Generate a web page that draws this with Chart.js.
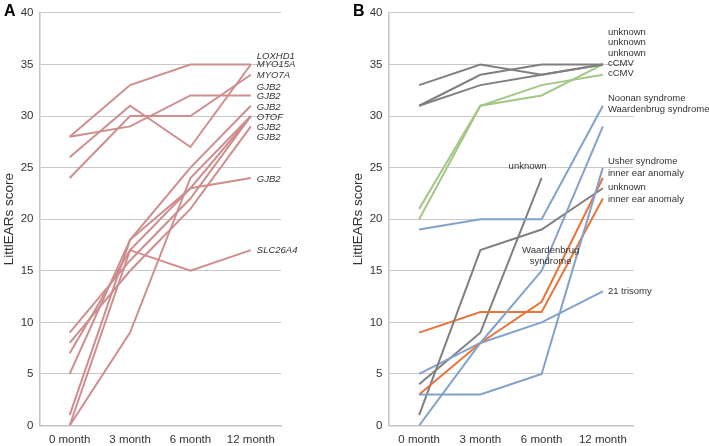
<!DOCTYPE html>
<html>
<head>
<meta charset="utf-8">
<script src="https://cdn.jsdelivr.net/npm/chart.js@4.4.0/dist/chart.umd.min.js"></script>
<style>
  body { margin: 0; background: #fff; }
  #wrap { position: relative; width: 709px; height: 446px; }
  canvas { position: absolute; top: 0; }
</style>
</head>
<body>
<div id="wrap">
  <canvas id="chartA" width="349" height="446" style="left:0"></canvas>
  <canvas id="chartB" width="360" height="446" style="left:349px"></canvas>
</div>
<script>
const months = ['0 month', '3 month', '6 month', '12 month'];
const scoreTicks = [0, 5, 10, 15, 20, 25, 30, 35, 40];

// panel A - genetic causes
const loxhd1  = [28, 33, 35, 35];
const myo15a  = [26, 31, 27, 35];
const myo7a   = [24, 30, 30, 34];
const gjb2_1  = [28, 29, 32, 32];
const gjb2_2  = [5, 18, 25, 31];
const gjb2_3  = [0, 9, 24, 30];
const otof    = [7, 17, 23, 30];
const gjb2_4  = [9, 16, 22, 30];
const gjb2_5  = [8, 15, 21, 29];
const gjb2_6  = [1, 18, 23, 24];
const slc26a4 = [0, 17, 15, 17];
const seriesA = [loxhd1, myo15a, myo7a, gjb2_1, gjb2_2, gjb2_3, otof, gjb2_4, gjb2_5, gjb2_6, slc26a4];
const namesA = ['LOXHD1', 'MYO15A', 'MYO7A', 'GJB2', 'GJB2', 'GJB2', 'OTOF', 'GJB2', 'GJB2', 'GJB2', 'SLC26A4'];
const nameAtA = [35.8, 35.0, 33.9, 32.8, 31.9, 30.8, 29.9, 28.9, 27.9, 23.9, 17.0];

// panel B - other causes
const unknown1 = [33, 35, 34, 35];
const unknown2 = [31, 34, 35, 35];
const unknown3 = [31, 33, 34, 35];
const cmv1     = [21, 31, 32, 35];
const cmv2     = [20, 31, 33, 34];
const noonan   = [19, 20, 20, 31];
const waarden  = [0, 8, 15, 29];
const usher    = [3, 3, 5, 25];
const inner1   = [3, 8, 12, 24];
const unknown4 = [1, 17, 19, 23];
const inner2   = [9, 11, 11, 22];
const trisomy  = [5, 8, 10, 13];
const unknown5 = [4, 9, 24, null];
const seriesB = [unknown1, unknown2, unknown3, cmv1, cmv2, noonan, waarden, usher, inner1, unknown4, inner2, trisomy, unknown5];
const groupB = ['gray', 'gray', 'gray', 'green', 'green', 'blue', 'blue', 'blue', 'orange', 'gray', 'orange', 'blue', 'gray'];
const namesB = ['unknown', 'unknown', 'unknown', 'cCMV', 'cCMV', 'Noonan syndrome', 'Waardenbrug syndrome',
  'Usher syndrome', 'inner ear anomaly', 'unknown', 'inner ear anomaly', '21 trisomy'];
const nameAtB = [38.1, 37.1, 36.1, 35.1, 34.1, 31.7, 30.6, 25.6, 24.4, 23.1, 21.9, 13.0];

const colors = { rose: '#cf8e8e', gray: '#808080', green: '#a4c687', blue: '#82a2cb', orange: '#e9743a' };
const FONT = 'Arial, "Liberation Sans", sans-serif';

const lineLabels = {
  id: 'lineLabels',
  afterDatasetsDraw(chart, args, opts) {
    const ctx = chart.ctx;
    const x = chart.scales.x, y = chart.scales.y;
    ctx.save();
    ctx.fillStyle = '#333';
    ctx.textBaseline = 'middle';
    ctx.font = (opts.italic ? 'italic ' : '') + '9.5px ' + FONT;
    ctx.textAlign = 'left';
    opts.names.forEach((t, i) => {
      ctx.fillText(t, x.getPixelForValue(3) + opts.gap, y.getPixelForValue(opts.at[i]));
    });
    ctx.textAlign = 'center';
    (opts.notes || []).forEach(n => {
      n.text.forEach((line, k) => {
        ctx.fillText(line, x.getPixelForValue(n.month) + n.dx, y.getPixelForValue(n.at - k * 1.1));
      });
    });
    // panel letter
    ctx.fillStyle = '#000';
    ctx.textAlign = 'left';
    ctx.textBaseline = 'alphabetic';
    ctx.font = 'bold 16px ' + FONT;
    ctx.fillText(opts.letter, 4, 16);
    ctx.restore();
  }
};

function makePanel(id, datasets, labelOpts, rightPad) {
  return new Chart(document.getElementById(id), {
    type: 'line',
    data: { labels: months, datasets },
    options: {
      responsive: false,
      animation: false,
      layout: { padding: { top: 10.7, right: rightPad, bottom: 0, left: 0 } },
      elements: { point: { radius: 0 }, line: { borderWidth: 2, tension: 0 } },
      plugins: { legend: { display: false }, tooltip: { enabled: false }, lineLabels: labelOpts },
      scales: {
        x: {
          offset: true,
          grid: { display: false, drawTicks: false },
          border: { color: '#c4c4c4', width: 1.5 },
          ticks: { padding: 7, color: '#333', font: { family: FONT, size: 11.5 } },
          afterFit: s => { s.height = 20.5; }
        },
        y: {
          min: 0,
          max: 40,
          afterBuildTicks: s => { s.ticks = scoreTicks.map(v => ({ value: v })); },
          grid: { color: '#c8c8c8', drawTicks: false },
          border: { color: '#c4c4c4', width: 1.5 },
          ticks: { padding: 6, color: '#333', font: { family: FONT, size: 11.5 } },
          title: {
            display: true, text: 'LittlEARs score', color: '#333',
            font: { family: FONT, size: 13.5 },
            padding: { top: 1, bottom: 0 }
          },
          afterFit: s => { s.width = 39.5; }
        }
      }
    },
    plugins: [lineLabels]
  });
}

makePanel('chartA',
  seriesA.map(d => ({ data: d, borderColor: colors.rose })),
  { names: namesA, at: nameAtA, italic: true, gap: 6, letter: 'A' },
  68);

makePanel('chartB',
  seriesB.map((d, i) => ({ data: d, borderColor: colors[groupB[i]] })),
  {
    names: namesB, at: nameAtB, italic: false, gap: 5, letter: 'B',
    notes: [
      { text: ['unknown'], month: 2, dx: -14, at: 25.1 },
      { text: ['Waardenbrug', 'syndrome'], month: 2, dx: 9, at: 17.0 }
    ]
  },
  75.5);
</script>
</body>
</html>
